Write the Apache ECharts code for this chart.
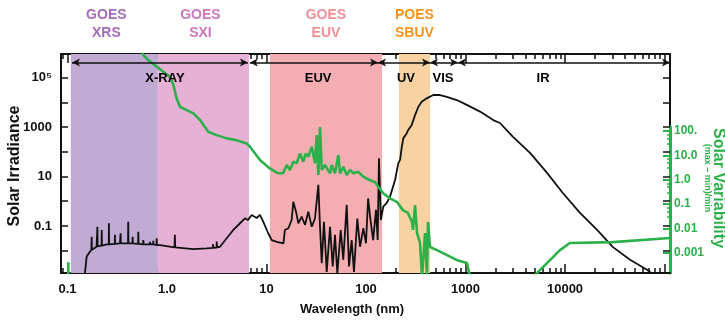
<!DOCTYPE html>
<html><head><meta charset="utf-8">
<script src="https://cdn.jsdelivr.net/npm/echarts@6/dist/echarts.min.js"></script>
<style>html,body{margin:0;padding:0;background:#fff}#c{width:725px;height:321px}</style>
</head><body><div id="c"></div>
<script>
// ---------- data ----------
const xTickLabels = [0.1, 1, 10, 100, 1000, 10000];
const xTickText = ['0.1', '1.0', '10', '100', '1000', '10000'];
const yLeftLabels = [0.1, 10, 1000, 100000];
const yLeftText = ['0.1', '10', '1000', '10⁵'];
const yRightLabels = [0.001, 0.01, 0.1, 1, 10, 100];
const yRightText = ['0.001', '0.01', '0.1', '1.0', '10.0', '100.'];
const bandNames = ['GOES\nXRS', 'GOES\nSXI', 'GOES\nEUV', 'POES\nSBUV'];
const bandFrom = [0.108, 0.81, 10.8, 214];
const bandTo = [0.81, 6.67, 145, 440];
const regionNames = ['X-RAY', 'EUV', 'UV', 'VIS', 'IR'];
const regionFrom = [0.111, 6.8, 132, 440, 840];
const regionTo = [6.5, 132, 440, 840, 113500];
const regionLabelAt = [0.955, 33, 252, 594, 6010];

// Solar irradiance spectrum [wavelength nm, irradiance]
const irradiance = [
[0.148,0.0008],[0.156,0.0058],[0.168,0.0091],
[0.174,0.011],[0.175,0.037],[0.176,0.011],
[0.196,0.0146],
[0.199,0.015],[0.200,0.093],[0.201,0.015],
[0.220,0.016],[0.221,0.069],[0.222,0.016],
[0.248,0.018],
[0.260,0.018],[0.261,0.129],[0.262,0.018],
[0.299,0.019],[0.300,0.044],[0.301,0.019],
[0.337,0.020],[0.342,0.051],[0.344,0.020],
[0.406,0.020],[0.408,0.148],[0.410,0.020],
[0.450,0.020],[0.452,0.037],[0.454,0.020],
[0.513,0.019],[0.515,0.059],[0.518,0.019],
[0.535,0.018],
[0.576,0.018],[0.578,0.027],[0.581,0.018],
[0.673,0.018],[0.675,0.023],[0.678,0.018],
[0.726,0.018],[0.728,0.025],[0.731,0.018],
[0.786,0.017],[0.788,0.032],[0.792,0.017],
[0.85,0.017],
[1.19,0.0138],[1.20,0.044],[1.21,0.0136],
[1.25,0.0132],[1.84,0.0117],[2.5,0.0125],
[2.89,0.013],[2.9,0.0186],[2.92,0.0132],
[3.15,0.0135],[3.16,0.0234],[3.18,0.0138],
[3.41,0.0145],[3.98,0.032],[4.64,0.069],[5.42,0.129],[6.08,0.204],[6.5,0.173],[7.1,0.277],[7.97,0.21],
[8.6,0.28],[9.3,0.148],[10.4,0.051],[11.3,0.027],[12.7,0.023],[14.8,0.020],[15.3,0.069],[16.6,0.081],
[17.9,0.174],[18.6,0.95],[19.8,0.38],[20.9,0.129],[22.6,0.24],[24.4,0.11],[26.3,0.38],[28.5,0.093],
[30.7,0.20],[33.2,4.6],[34.5,0.093],[35.9,0.0031],[37.8,0.148],[40.3,0.0014],[43.5,0.093],[46.3,0.0023],
[48.8,0.044],[51.5,0.0012],[55.7,0.069],[59.1,0.0043],[64,0.71],[67.5,0.0023],[71.8,0.027],[75.7,0.0014],
[81.8,0.20],[87.1,0.0145],[94,0.081],[100,0.020],[105,1.3],[111,0.174],[118,0.027],[126,0.45],[131,0.027],
[135,55],[141,0.174],[149,0.60],[161,0.83],[174,1.5],[196,7.2],[211,34],[220,47],[229,159],[237,347],
[257,560],[266,760],[288,1200],[299,1900],[311,3000],[336,6600],[363,10500],[407,14400],[475,19600],
[554,19600],[647,16600],[816,12300],[1030,7800],[1400,4200],[1900,1900],[2220,1450],[3000,400],[4450,90],
[6600,14],[9550,2.1],[14150,0.34],[21000,0.069],[30300,0.014],[45000,0.0043],[66700,0.0017],[76600,0.0011],
[113000,0.0002]
];

// Solar variability (max - min)/min [wavelength nm, variability]
const variability = [
[0.102,0.0001],[0.102,0.0004],[0.104,'-'],
[0.55,200000],[0.578,135000],[0.649,83000],[0.788,44700],[0.918,27500],[1.07,17000],[1.16,7800],
[1.25,2230],[1.35,1000],[1.58,730],[1.84,535],[2.15,284],[2.60,94],[3.16,68],[3.98,50],[5.01,42],
[6.32,31],[6.82,22.6],[8.6,6.4],[10.8,2.9],[13.1,1.83],[14.7,1.83],[16.0,4.0],[17.2,2.5],[18.6,5.5],
[20.1,4.7],[21.7,12],[23.4,5.5],[24.9,12],[26.3,8.7],[28.5,22.6],[30.7,4.7],[32,68],[33.2,1.55],
[34.5,146],[35.9,2.5],[38.7,4.0],[43.5,1.83],[45.2,4.0],[48.8,1.83],[52.7,10.2],[54.8,1.83],[59.1,3.4],
[64,1.55],[69,2.5],[74.5,1.83],[83.7,2.1],[94,1.32],[110,0.95],[123,0.81],[133,0.51],[149,0.275],
[174,0.17],[204,0.123],[235,0.056],[264,0.043],[290,0.018],[297,0.0086],[311,0.089],[326,0.0063],
[349,0.0025],[366,0.0001],[392,0.0063],[410,0.0001],[420,0.018],[440,0.0017],[517,0.00126],
[652,0.00079],[822,0.00049],[1035,0.00037],[1110,0.0001],[4770,0.0001],[6590,0.00037],[8900,0.00126],
[11200,0.0025],[30300,0.0027],[113500,0.004]
];

// ---------- chart ----------
const X_MIN = 0.0861, X_MAX = 113500;
const YL_MIN = 0.00126, YL_MAX = 891000;
const YR_MIN = 0.000145, YR_MAX = 148000, YR_VIS_MAX = 146;
const ARROW_Y = 404000, LABEL_Y = 95000;
const SANS = "'Liberation Sans',Arial,sans-serif";
const INK = '#111';
const GREEN = '#2bb04a';
const bandColors = ['#c1aad4', '#e6b1d5', '#f4aeb2', '#f8d2a2'];
const bandTextColors = ['#a56cba', '#cc78be', '#f38f97', '#f7941d'];
const bandLabelOffset = [-8, -3, 0, 0];

function decadeTicks(lo, hi) { const out = []; for (let e = -2; e <= 6; e++) { const v = Math.pow(10, e); if (v >= lo && v <= hi) out.push(+v.toPrecision(6)); } return out; }
function minorTicks(lo, hi) { const out = []; for (let e = -2; e <= 6; e++) for (let k = 2; k <= 9; k++) { const v = +(k * Math.pow(10, e)).toPrecision(6); if (v >= lo && v <= hi) out.push(v); } return out; }
const xMajor = decadeTicks(X_MIN, X_MAX), xMinor = minorTicks(X_MIN, X_MAX);
const yMajor = decadeTicks(YL_MIN, YL_MAX);
const gMajor = yRightLabels, gMinor = minorTicks(YR_MIN, YR_VIS_MAX).filter(v => [3, 5, 7].some(k => Math.abs(v / Math.pow(10, Math.floor(Math.log10(v) + 1e-9)) - k) < 1e-6));

function lookup(vals, texts) { return v => { const e = Math.round(Math.log10(v)); const i = vals.findIndex(t => Math.round(Math.log10(t)) === e); return i >= 0 ? texts[i] : ''; }; }
const tickStyle = { color: INK, width: 1.5 };
function xAx(pos, ticks, len, labels, line) {
  return { type: 'log', gridIndex: 0, position: pos, min: X_MIN, max: X_MAX, logBase: 10,
    axisLine: { show: line, onZero: false, lineStyle: { color: INK, width: 2 } },
    axisTick: { show: true, inside: true, length: len, customValues: ticks, lineStyle: tickStyle },
    axisLabel: labels ? { customValues: xTickLabels, formatter: lookup(xTickLabels, xTickText), margin: 10, fontFamily: SANS, fontWeight: 'bold', fontSize: 13, color: INK } : { show: false },
    splitLine: { show: false }, minorTick: { show: false } };
}

const option = {
  animation: false,
  backgroundColor: '#fff',
  grid: [
    { left: 61, right: 55, top: 54, bottom: 48 },
    { left: 61, right: 55, top: 127, bottom: 48 }
  ],
  xAxis: [
    xAx('bottom', xMajor, 9, true, true),
    xAx('bottom', xMinor, 5, false, false),
    xAx('top', xMajor, 9, false, true),
    xAx('top', xMinor, 5, false, false),
    { type: 'log', gridIndex: 1, min: X_MIN, max: X_MAX, show: false }
  ],
  yAxis: [
    { type: 'log', gridIndex: 0, position: 'left', min: YL_MIN, max: YL_MAX,
      axisLine: { show: true, onZero: false, lineStyle: { color: INK, width: 2 } },
      axisTick: { show: true, inside: true, length: 7, customValues: yMajor, lineStyle: tickStyle },
      axisLabel: { customValues: yLeftLabels, formatter: lookup(yLeftLabels, yLeftText), margin: 9, fontFamily: SANS, fontWeight: 'bold', fontSize: 13, color: INK },
      splitLine: { show: false } },
    { type: 'log', gridIndex: 0, position: 'right', min: YL_MIN, max: YL_MAX,
      axisLine: { show: true, onZero: false, lineStyle: { color: INK, width: 2 } },
      axisTick: { show: true, inside: true, length: 7, customValues: yMajor, lineStyle: tickStyle },
      axisLabel: { show: false }, splitLine: { show: false } },
    { type: 'log', gridIndex: 0, position: 'right', min: YR_MIN, max: YR_MAX, show: false },
    { type: 'log', gridIndex: 1, position: 'right', min: YR_MIN, max: YR_VIS_MAX,
      axisLine: { show: true, onZero: false, lineStyle: { color: GREEN, width: 3 } },
      axisTick: { show: true, inside: true, length: 7, customValues: gMajor, lineStyle: { color: GREEN, width: 2 } },
      axisLabel: { customValues: yRightLabels, formatter: lookup(yRightLabels, yRightText), margin: 4, fontFamily: SANS, fontWeight: 'bold', fontSize: 12, color: GREEN },
      splitLine: { show: false } },
    { type: 'log', gridIndex: 1, position: 'right', min: YR_MIN, max: YR_VIS_MAX,
      axisLine: { show: false },
      axisTick: { show: true, inside: true, length: 3, customValues: gMinor, lineStyle: { color: GREEN, width: 1.5 } },
      axisLabel: { show: false }, splitLine: { show: false } }
  ],
  series: [
    { name: 'Solar Irradiance', type: 'line', xAxisIndex: 0, yAxisIndex: 0, data: irradiance,
      showSymbol: false, symbol: 'none', clip: true, z: 3,
      lineStyle: { color: INK, width: 1.8 },
      markArea: { silent: true, z: 1,
        data: bandFrom.map((f, i) => [
          { name: bandNames[i], xAxis: f, itemStyle: { color: bandColors[i] },
            label: { show: true, position: 'top', distance: 12, offset: [bandLabelOffset[i], 0], color: bandTextColors[i],
              fontFamily: SANS, fontWeight: 'bold', fontSize: 14, lineHeight: 18, align: 'center' } },
          { xAxis: bandTo[i] }
        ]) },
      markLine: { silent: true, symbol: ['arrow', 'arrow'], symbolSize: [6, 8], label: { show: false },
        lineStyle: { color: INK, width: 1.5, type: 'solid' },
        data: regionFrom.map((f, i) => [{ coord: [f, ARROW_Y] }, { coord: [regionTo[i], ARROW_Y] }]) }
    },
    { name: 'regions', type: 'scatter', xAxisIndex: 0, yAxisIndex: 0, symbolSize: 0, silent: true, z: 5,
      itemStyle: { opacity: 1 },
      data: regionLabelAt.map((x, i) => ({ value: [x, LABEL_Y], name: regionNames[i] })),
      label: { show: true, position: 'inside', formatter: '{b}', color: '#000', opacity: 1, fontFamily: SANS, fontWeight: 'bold', fontSize: 13 } },
    { name: 'Solar Variability', type: 'line', xAxisIndex: 0, yAxisIndex: 2, data: variability,
      showSymbol: false, symbol: 'none', clip: true, z: 4, connectNulls: false,
      lineStyle: { color: GREEN, width: 2.6 } }
  ],
  graphic: [
    { type: 'text', x: 15, y: 166, rotation: Math.PI / 2,
      style: { text: 'Solar Irradiance', fill: INK, font: 'bold 16px ' + SANS, align: 'center', verticalAlign: 'middle' } },
    { type: 'text', x: 352, y: 309,
      style: { text: 'Wavelength (nm)', fill: INK, font: 'bold 13px ' + SANS, align: 'center', verticalAlign: 'middle' } },
    { type: 'text', x: 718, y: 188, rotation: -Math.PI / 2,
      style: { text: 'Solar Variability', fill: GREEN, font: 'bold 16px ' + SANS, align: 'center', verticalAlign: 'middle' } },
    { type: 'text', x: 707, y: 178, rotation: -Math.PI / 2,
      style: { text: '(max – min)/min', fill: GREEN, font: 'bold 9px ' + SANS, align: 'center', verticalAlign: 'middle' } }
  ]
};
const chart = echarts.init(document.getElementById('c'), null, { renderer: 'canvas' });
chart.setOption(option);
</script>
</body></html>
